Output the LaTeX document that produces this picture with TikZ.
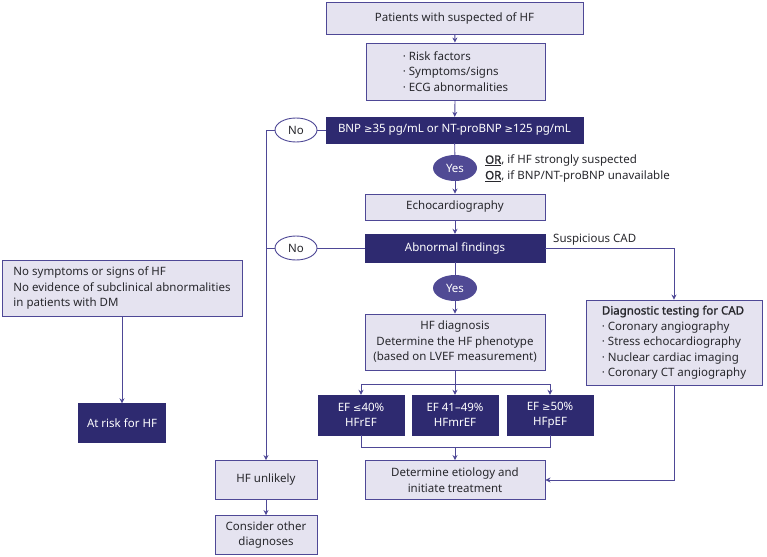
\documentclass[tikz,border=0pt]{standalone}
\usepackage{fontspec}
\setmainfont{Noto Sans}
\newfontfamily\symfont{DejaVu Sans}
\newfontfamily\semib{Noto Sans}[FakeBold=1.3]
\usetikzlibrary{arrows.meta, positioning, shapes.geometric, calc}
\definecolor{hfdark}{RGB}{46,42,112}
\definecolor{hfline}{RGB}{78,72,150}
\definecolor{hflight}{RGB}{229,227,240}
\definecolor{hfyes}{RGB}{80,74,148}
\definecolor{hftext}{RGB}{40,40,45}
\newcommand{\hfge}{{\symfont\fontsize{10}{10}\selectfont ≥}}
\newcommand{\hfle}{{\symfont\fontsize{10}{10}\selectfont ≤}}

\begin{document}
\begin{tikzpicture}[
    x=1pt, y=-1pt,
    font=\fontsize{11.5}{15.5}\selectfont, text=hftext,
    lbox/.style={rectangle, draw=hfline, fill=hflight, line width=0.9pt,
                 align=center, inner sep=2pt},
    dbox/.style={rectangle, draw=hfdark, fill=hfdark, text=white,
                 align=center, inner sep=2pt},
    yesnode/.style={ellipse, fill=hfyes, text=white, minimum width=44pt,
                    minimum height=26pt, inner sep=0pt},
    nonode/.style={ellipse, draw=hfline, fill=white, line width=0.9pt,
                   minimum width=42pt, minimum height=24pt, inner sep=0pt},
    arr/.style={-{Stealth[length=5pt, width=5pt]}, line width=0.9pt, hfline},
    ln/.style={line width=0.9pt, hfline},
]
    \useasboundingbox (0,0) rectangle (767,556);

    % main column
    \node[lbox, minimum width=257pt, minimum height=32pt] (start) at (454.5,18) {Patients with suspected of HF};
    \node[lbox, minimum width=179pt, minimum height=57pt, align=left] (risk) at (455.5,71.5)
        {· Risk factors\\· Symptoms/signs\\· ECG abnormalities};
    \node[dbox, minimum width=257pt, minimum height=26pt] (bnp) at (454.5,130)
        {BNP \hfge35 pg/mL or NT-proBNP \hfge125 pg/mL};
    \node[nonode] (no1) at (296,130) {No};
    \node[yesnode] (yes1) at (455,168) {Yes};
    \node[anchor=west, align=left, inner sep=0pt] (ornote) at (485,168.5)
        {\underline{\semib OR}, if HF strongly suspected\\\underline{\semib OR}, if BNP/NT-proBNP unavailable};
    \node[lbox, minimum width=180pt, minimum height=26pt] (echo) at (455,207) {Echocardiography};
    \node[dbox, minimum width=180pt, minimum height=28pt] (abn) at (455,248) {Abnormal findings};
    \node[nonode] (no2) at (296,248) {No};
    \node[anchor=south west, inner sep=0pt] (cadlbl) at (553,245) {Suspicious CAD};
    \node[yesnode] (yes2) at (455,288) {Yes};
    \node[lbox, minimum width=180pt, minimum height=56pt] (dx) at (455,342)
        {HF diagnosis\\Determine the HF phenotype\\(based on LVEF measurement)};

    % phenotypes
    \node[dbox, minimum width=86pt, minimum height=40pt] (ef1) at (361,415) {EF \hfle40\%\\HFrEF};
    \node[dbox, minimum width=86pt, minimum height=40pt] (ef2) at (455,415) {EF 41–49\%\\HFmrEF};
    \node[dbox, minimum width=86pt, minimum height=40pt] (ef3) at (550,415) {EF \hfge50\%\\HFpEF};
    \node[lbox, minimum width=180pt, minimum height=39pt] (etio) at (455,480)
        {Determine etiology and\\initiate treatment};

    % CAD branch
    \node[lbox, minimum width=176pt, minimum height=85pt, align=left] (cad) at (674,342.5)
        {{\semib Diagnostic testing for CAD}\\· Coronary angiography\\· Stress echocardiography\\%
         · Nuclear cardiac imaging\\· Coronary CT angiography};

    % left side
    \node[lbox, minimum width=240pt, minimum height=56pt, align=left] (norisk) at (122,288)
        {No symptoms or signs of HF\\No evidence of subclinical abnormalities\\in patients with DM};
    \node[dbox, minimum width=87pt, minimum height=39pt] (atrisk) at (122,423) {At risk for HF};
    \node[lbox, minimum width=102pt, minimum height=39pt] (unl) at (266,480) {HF unlikely};
    \node[lbox, minimum width=102pt, minimum height=39pt] (other) at (266,535) {Consider other\\diagnoses};

    % connectors
    \draw[arr] (start) -- (risk);
    \draw[arr] (risk) -- (bnp);
    \draw[ln] (bnp) -- (yes1);
    \draw[arr] (yes1) -- (echo);
    \draw[arr] (echo) -- (abn);
    \draw[ln] (abn) -- (yes2);
    \draw[arr] (yes2) -- (dx);

    \draw[ln] (bnp) -- (no1);
    \draw[arr] (no1.west) -| (unl.north);
    \draw[ln] (abn) -- (no2);
    \draw[ln] (no2.west) -- (no2.west -| unl.north);
    \draw[arr] (unl) -- (other);
    \draw[arr] (norisk) -- (atrisk);

    \draw[arr] (abn.east) -| (cad.north);
    \draw[arr] (cad.south) |- (etio.east);

    \coordinate (split) at ($(dx.south)+(0,14)$);
    \draw[ln] (dx.south) -- (split);
    \draw[arr] (split) -| (ef1.north);
    \draw[arr] (split) -| (ef3.north);
    \draw[arr] (split) -- (ef2.north);
    \coordinate (merge) at ($(etio.north)+(0,-13)$);
    \draw[ln] (ef1.south) |- (merge) -| (ef3.south);
    \draw[arr] (merge) -- (etio.north);
\end{tikzpicture}
\end{document}
